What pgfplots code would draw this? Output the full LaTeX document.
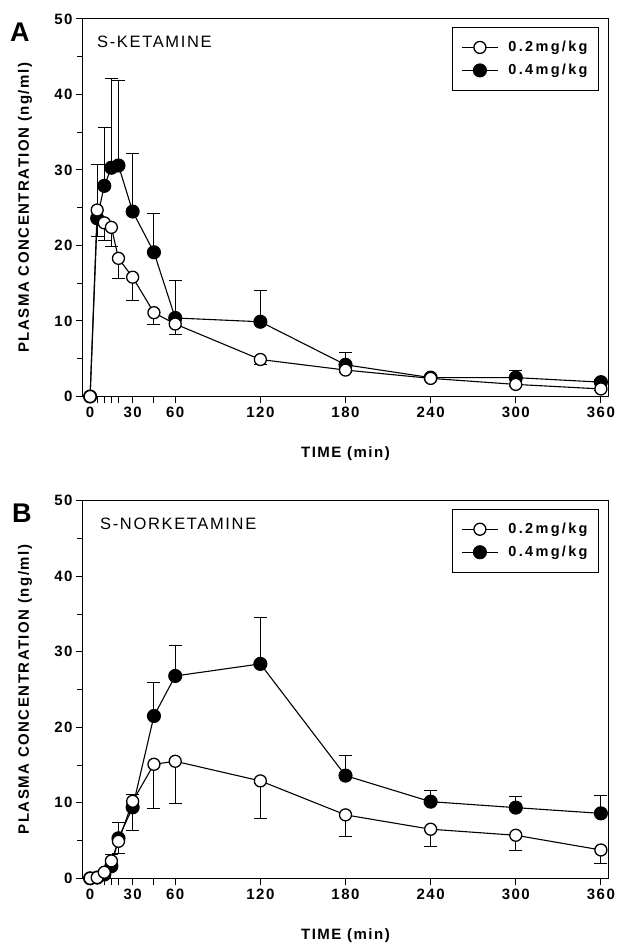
\documentclass[border=0pt]{standalone}
\usepackage{fontspec}
\setmainfont{Liberation Sans}[LetterSpace=10]
\usepackage{pgfplots}
\usepackage{pgfplotstable}
\pgfplotsset{compat=1.18}

% panel A: S-ketamine, t (min), mean, SD
\pgfplotstableread{
t y e
0 0 0
5 24.7 3.5
10 23.0 2.3
15 22.4 2.5
20 18.3 2.7
30 15.8 3.1
45 11.1 1.5
60 9.6 1.4
120 4.9 0.7
180 3.5 0.3
240 2.4 0.2
300 1.6 0.3
360 1.0 0.2
}\ketlo
\pgfplotstableread{
t y e
0 0 0
5 23.6 7.1
10 27.9 7.7
15 30.3 11.8
20 30.6 11.3
30 24.5 7.7
45 19.1 5.1
60 10.4 5.0
120 9.9 4.1
180 4.2 1.6
240 2.5 0.2
300 2.5 0.9
360 1.9 0.4
}\kethi
% panel B: S-norketamine
\pgfplotstableread{
t y e
0 0 0
5 0.1 0
10 0.8 0.3
15 2.3 0.8
20 4.9 1.6
30 10.2 3.9
45 15.1 5.8
60 15.5 5.6
120 12.9 5.0
180 8.4 2.9
240 6.5 2.3
300 5.7 2.0
360 3.75 1.85
}\norlo
\pgfplotstableread{
t y e
0 0 0
5 0.1 0
10 0.5 0.3
15 1.6 1.5
20 5.3 2.1
30 9.4 1.7
45 21.5 4.5
60 26.8 4.1
120 28.4 6.1
180 13.6 2.6
240 10.15 1.45
300 9.36 1.54
360 8.6 2.4
}\norhi

\pgfplotsset{
  pk/.style={
    scale only axis, width=525pt, height=377.5pt,
    xmin=-5, xmax=365, ymin=0, ymax=50,
    xtick={0,30,60,120,180,240,300,360},
    extra x ticks={5,10,15,20,45}, extra x tick labels={},
    ytick={0,10,...,50}, minor y tick num=1,
    tick align=outside, tick pos=left,
    major tick length=7pt, minor tick length=6pt,
    axis line style={line width=1pt},
    every tick/.style={black, line width=1pt},
    clip=false,
    /pgf/number format/assume math mode=true,
    tick label style={font=\fontsize{15}{18}\selectfont\bfseries},
    label style={font=\fontsize{15}{18}\selectfont\bfseries},
    xlabel={TIME (min)}, ylabel={PLASMA CONCENTRATION (ng/ml)},
    xlabel style={at={(axis description cs:0.5,0)}, yshift=-57pt, anchor=center},
    ylabel style={at={(axis description cs:-0.1105,0.5)}, anchor=center},
    reverse legend,
    legend cell align=left,
    legend style={at={(rel axis cs:0.983,0.979)}, anchor=north east,
      draw=black, line width=1pt, inner xsep=9pt, inner ysep=12pt, row sep=7pt,
      /tikz/every odd column/.append style={column sep=8pt},
      font=\fontsize{14.5}{17}\selectfont\bfseries\addfontfeatures{LetterSpace=16}},
    legend image code/.code={
      \draw[mark repeat=2, mark phase=2] plot coordinates {(0pt,0pt) (18pt,0pt) (36pt,0pt)};},
  },
  lo/.style={black, line width=1.1pt, mark=*, mark size=6pt,
    mark options={fill=white, line width=1.3pt},
    error bars/.cd, y dir=minus, y explicit,
    error bar style={line width=1pt},
    error mark options={rotate=90, mark size=6.5pt, line width=1pt}},
  hi/.style={black, line width=1.1pt, mark=*, mark size=6.5pt,
    mark options={fill=black},
    error bars/.cd, y dir=plus, y explicit,
    error bar style={line width=1pt},
    error mark options={rotate=90, mark size=6.5pt, line width=1pt}},
}

\begin{document}
\begin{tikzpicture}
\path[use as bounding box] (0,0) rectangle (617pt,946pt);

\begin{axis}[pk, at={(83pt,549.5pt)}, anchor=south west]
\addplot[hi] table[x=t, y=y, y error=e] {\kethi};
\addlegendentry{0.4mg/kg}
\addplot[lo] table[x=t, y=y, y error=e] {\ketlo};
\addlegendentry{0.2mg/kg}
\end{axis}

\begin{axis}[pk, at={(83pt,67.7pt)}, anchor=south west]
\addplot[hi] table[x=t, y=y, y error=e] {\norhi};
\addlegendentry{0.4mg/kg}
\addplot[lo] table[x=t, y=y, y error=e] {\norlo};
\addlegendentry{0.2mg/kg}
\end{axis}

\node[anchor=base west, inner sep=0pt, font=\fontsize{27}{30}\selectfont\bfseries] at (10pt,904pt) {A};
\node[anchor=base west, inner sep=0pt, font=\fontsize{27}{30}\selectfont\bfseries] at (12pt,423pt) {B};
\node[anchor=base west, inner sep=0pt, font=\fontsize{16.5}{19}\selectfont] at (97pt,898pt) {S-KETAMINE};
\node[anchor=base west, inner sep=0pt, font=\fontsize{16.5}{19}\selectfont] at (100pt,416pt) {S-NORKETAMINE};
\end{tikzpicture}
\end{document}
